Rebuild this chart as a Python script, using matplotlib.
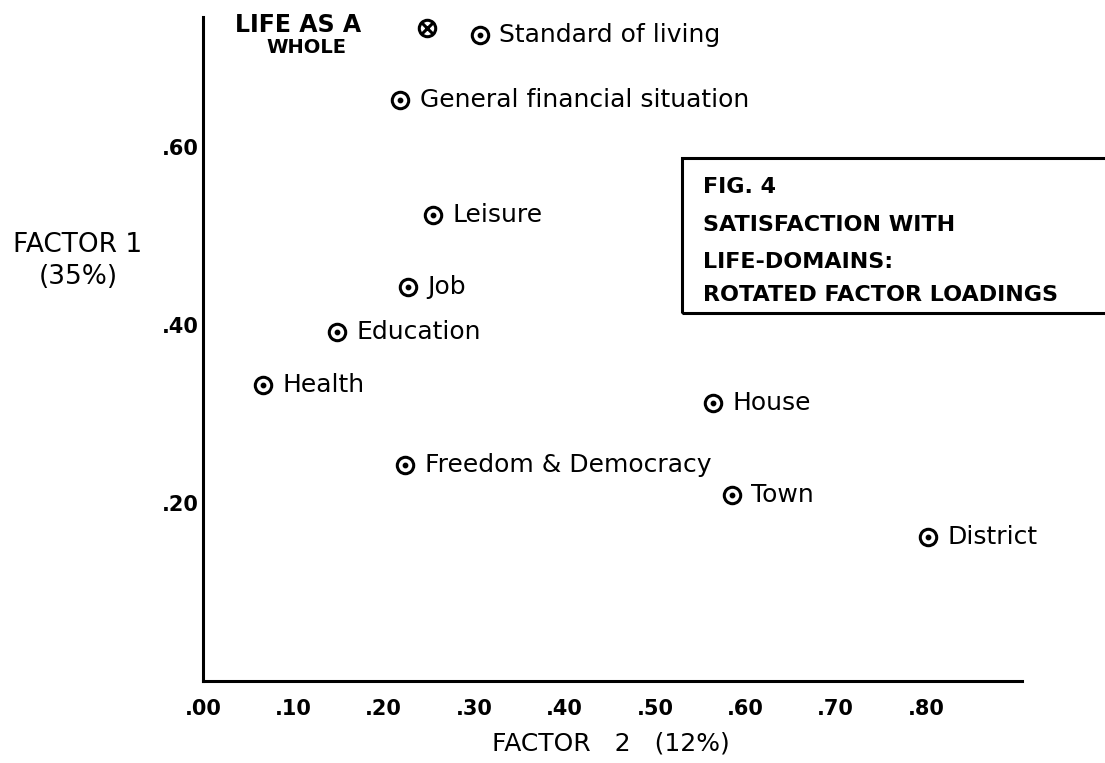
import matplotlib
matplotlib.use("Agg")
import matplotlib.pyplot as plt
from matplotlib.patches import Rectangle

# Satisfaction with life-domains, rotated factor loadings
# x = factor 2 loading, y = factor 1 loading
domains = ["Standard of living", "General financial situation", "Leisure", "Job",
           "Education", "Health", "Freedom & Democracy", "House", "Town", "District"]
factor2 = [0.306, 0.218, 0.254, 0.227, 0.148, 0.066, 0.224, 0.564, 0.585, 0.802]
factor1 = [0.726, 0.653, 0.524, 0.443, 0.392, 0.333, 0.243, 0.312, 0.209, 0.162]

# overall satisfaction, drawn with its own symbol
whole_label = ["LIFE AS A", "WHOLE"]
whole_f2 = [0.248]
whole_f1 = [0.734]

x_ticks = [0.0, 0.1, 0.2, 0.3, 0.4, 0.5, 0.6, 0.7, 0.8]
x_tick_labels = [".00", ".10", ".20", ".30", ".40", ".50", ".60", ".70", ".80"]
y_ticks = [0.2, 0.4, 0.6]
y_tick_labels = [".20", ".40", ".60"]

title_lines = ["FIG. 4", "SATISFACTION WITH", "LIFE-DOMAINS:", "ROTATED FACTOR LOADINGS"]

W, H = 1105, 763
fig = plt.figure(figsize=(W / 100, H / 100), dpi=100)
# axes placed in pixels: x=0 at 203px, y=0 at 681px (from top)
ax = fig.add_axes([203 / W, (H - 681) / H, 819 / W, 664 / H])
ax.set_xlim(0, 0.906)
ax.set_ylim(0, 0.746)

for side in ["top", "right"]:
    ax.spines[side].set_visible(False)
for side in ["left", "bottom"]:
    ax.spines[side].set_linewidth(2.2)
    ax.spines[side].set_color("black")

ax.set_xticks(x_ticks)
ax.set_xticklabels(x_tick_labels, fontsize=15, fontweight="bold")
ax.set_yticks(y_ticks)
ax.set_yticklabels(y_tick_labels, fontsize=15, fontweight="bold")
ax.tick_params(axis="x", length=0, pad=13)
ax.tick_params(axis="y", length=0, pad=3)

# domain points: open circle with a dot in the middle
ax.scatter(factor2, factor1, s=140, facecolor="white", edgecolor="black",
           linewidth=2.2, zorder=3)
ax.scatter(factor2, factor1, s=10, color="black", zorder=4)
for name, x, y in zip(domains, factor2, factor1):
    ax.annotate(name, (x, y), xytext=(14, 0), textcoords="offset points",
                ha="left", va="center", fontsize=18)

# life as a whole: crossed circle
ax.scatter(whole_f2, whole_f1, s=140, facecolor="white", edgecolor="black",
           linewidth=2.2, zorder=3)
ax.scatter(whole_f2, whole_f1, s=70, marker="x", color="black", linewidth=2.2, zorder=4)
ax.annotate(whole_label[0], (whole_f2[0], whole_f1[0]), xytext=(-93, 2),
            textcoords="offset points", ha="center", va="center",
            fontsize=17, fontweight="bold")
ax.annotate(whole_label[1], (whole_f2[0], whole_f1[0]), xytext=(-87, -14),
            textcoords="offset points", ha="center", va="center",
            fontsize=14, fontweight="bold")

ax.set_xlabel("FACTOR   2   (12%)", fontsize=18)
ax.xaxis.set_label_coords((611 - 203) / 819, -(743 - 681) / 664)
ax.xaxis.label.set_va("center")
ax.set_ylabel("FACTOR 1\n(35%)", fontsize=19, rotation=0, ha="center",
              va="center", linespacing=1.3)
ax.yaxis.set_label_coords((78 - 203) / 819, (681 - 261) / 664)

# caption box, runs off the right edge
box = Rectangle((682 / W, (H - 313) / H), 0.5, 155 / H, transform=fig.transFigure,
                fill=False, edgecolor="black", linewidth=2.2, clip_on=False)
fig.patches.append(box)
for line, ypx in zip(title_lines, [187, 225, 262, 295]):
    fig.text(703 / W, (H - ypx) / H, line, fontsize=16, fontweight="bold",
             ha="left", va="center")

fig.savefig("out.png", dpi=100, facecolor="white")
